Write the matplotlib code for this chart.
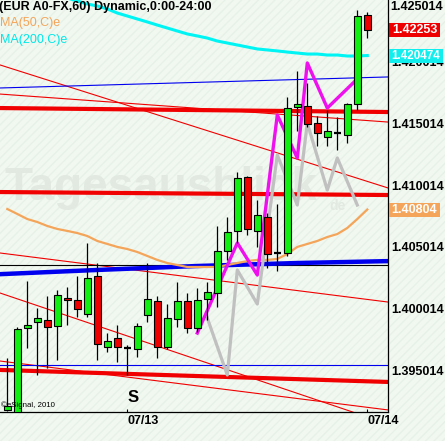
import numpy as np
import matplotlib
matplotlib.use("Agg")
import matplotlib.pyplot as plt
import matplotlib.transforms as mtransforms
from matplotlib.patches import Rectangle

plt.rcParams['font.family'] = ['Liberation Sans', 'DejaVu Sans']

# hourly EUR bars, 07/12 12:00 .. 07/14 00:00
opens = [1.39186, 1.39150, 1.39848, 1.39896, 1.39912, 1.39864, 1.40090, 1.40074, 1.39961, 1.40267,
         1.39694, 1.39767, 1.39686, 1.39678, 1.39953, 1.40066, 1.39694, 1.39920, 1.40066, 1.39848,
         1.40082, 1.40130, 1.40469, 1.40631, 1.41067, 1.40631, 1.40744, 1.40453, 1.40453, 1.41632,
         1.41640, 1.41502, 1.41389, 1.41422, 1.41406, 1.41656, 1.42374]
highs = [1.39606, 1.39856, 1.40227, 1.40009, 1.40106, 1.40154, 1.40179, 1.40267, 1.40534, 1.40372,
         1.39807, 1.39872, 1.39710, 1.39888, 1.40372, 1.40106, 1.40041, 1.40219, 1.40130, 1.40171,
         1.40219, 1.40671, 1.40744, 1.41107, 1.41075, 1.40881, 1.40776, 1.40849, 1.41712, 1.41922,
         1.41825, 1.41559, 1.41607, 1.41551, 1.41664, 1.42415, 1.42398]
lows = [1.39178, 1.39140, 1.39686, 1.39468, 1.39525, 1.39589, 1.39872, 1.39936, 1.39936, 1.39589,
        1.39654, 1.39573, 1.39468, 1.39614, 1.39896, 1.39606, 1.39678, 1.39856, 1.39807, 1.39815,
        1.39912, 1.40017, 1.40397, 1.40534, 1.40598, 1.40502, 1.40332, 1.40308, 1.40429, 1.41438,
        1.41470, 1.41317, 1.41317, 1.41284, 1.41341, 1.41607, 1.42189]
closes = [1.39218, 1.39840, 1.39872, 1.39928, 1.39856, 1.40114, 1.40074, 1.40001, 1.40251, 1.39719,
          1.39743, 1.39694, 1.39686, 1.39864, 1.40082, 1.39694, 1.39928, 1.40066, 1.39848, 1.40074,
          1.40138, 1.40469, 1.40623, 1.41058, 1.40647, 1.40760, 1.40445, 1.40453, 1.41623, 1.41656,
          1.41494, 1.41422, 1.41438, 1.41422, 1.41656, 1.42366, 1.42253]

ma50 = [1.40808, 1.40768, 1.40727, 1.40703, 1.40671, 1.40647, 1.40631, 1.40614, 1.40590, 1.40550,
        1.40526, 1.40502, 1.40485, 1.40461, 1.40429, 1.40397, 1.40372, 1.40356, 1.40340, 1.40340,
        1.40340, 1.40340, 1.40356, 1.40372, 1.40388, 1.40397, 1.40397, 1.40405, 1.40445, 1.40502,
        1.40526, 1.40550, 1.40582, 1.40606, 1.40655, 1.40727, 1.40804]
ma200_start = 6
ma200 = [1.42511, 1.42487, 1.42463, 1.42447, 1.42423, 1.42390, 1.42366, 1.42342, 1.42318, 1.42293,
         1.42269, 1.42245, 1.42221, 1.42205, 1.42188, 1.42164, 1.42148, 1.42132, 1.42116, 1.42100,
         1.42092, 1.42084, 1.42075, 1.42067, 1.42059, 1.42059, 1.42051, 1.42051, 1.42043, 1.42043,
         1.42047]

# thick blue support curve
blue_x = [-1, 9, 19, 29, 39]
blue_p = [1.40281, 1.40316, 1.40348, 1.40372, 1.40389]

# trend lines: price at left edge, price at right edge
red_thin = [(1.41971, 1.40978), (1.41736, 1.41510), (1.40453, 1.40057),
            (1.40130, 1.39073), (1.39581, 1.39186)]
red_thick = [(1.41623, 1.41591), (1.40945, 1.40921), (1.39509, 1.39412)]
blue_thin = [(1.41785, 1.41874), (1.39549, 1.39549)]
black_line = (1.40356, 1.40356)

zz_pink_x = [19, 23, 25, 27, 29, 30, 32, 35]
zz_pink_p = [1.39807, 1.40534, 1.40275, 1.41567, 1.41220, 1.41987, 1.41623, 1.41858]
zz_gray_x = [20, 22, 23, 25, 27, 29, 30, 32, 33, 35]
zz_gray_p = [1.39928, 1.39468, 1.40316, 1.40041, 1.41244, 1.40840, 1.41502, 1.40961, 1.41220, 1.40840]

ytick_vals = [1.395014, 1.400014, 1.405014, 1.410014, 1.415014, 1.420014]
xtick_pos = [12, 36]
xtick_labels = ['07/13', '07/14']

W, H = 445, 441
bg = '#f0f8f0'
fig = plt.figure(figsize=(W / 100, H / 100), dpi=100)
fig.patch.set_facecolor(bg)
fig.patches.append(Rectangle((0, 0), 1, 1, transform=fig.transFigure, facecolor=bg,
                             edgecolor='#e8f1e8', hatch='////', lw=0, zorder=-5))
ax = fig.add_axes([0, 29 / H, 388 / W, 412 / H])
ax.set_facecolor('none')

x_left, x_right = -0.73, 38.07
ax.set_xlim(x_left, x_right)
ax.set_ylim(1.391694, 1.424952)

# watermark
ax.text(-0.25, 1.4098, 'Tagesausblick', fontsize=33, fontweight='bold', color='#e1e9e1',
        va='center', ha='left', zorder=0.5)
ax.text(32.2, 1.40835, 'de', fontsize=10, fontweight='bold', color='#e1e9e1',
        va='center', ha='left', zorder=0.5)

for p0, p1 in red_thin:
    ax.plot([x_left, x_right], [p0, p1], color='#f00000', lw=0.8, zorder=1)
for p0, p1 in red_thick:
    ax.plot([x_left, x_right], [p0, p1], color='#f00000', lw=3.0, zorder=1)
for p0, p1 in blue_thin:
    ax.plot([x_left, x_right], [p0, p1], color='#0000ee', lw=0.8, zorder=1)
ax.plot([x_left, x_right], black_line, color='black', lw=0.8, zorder=1)
ax.plot(blue_x, blue_p, color='#0000ee', lw=3.2, zorder=1.1)

idx = np.arange(len(opens))
ax.plot(idx, ma50, color='#f4a55a', lw=1.6, zorder=1.2)
ax.plot(np.arange(ma200_start, ma200_start + len(ma200)), ma200, color='#00f4f4', lw=2.2, zorder=1.2)

ax.plot(zz_gray_x, zz_gray_p, color='#c0c0c0', lw=2.3, zorder=1.5)
ax.plot(zz_pink_x, zz_pink_p, color='#ee11ee', lw=2.4, zorder=1.6)

# candles
o = np.array(opens)
c = np.array(closes)
ax.vlines(idx, lows, highs, color='black', lw=0.9, zorder=3)
body = c != o
cols = np.where(c > o, '#11ee11', '#ee0000')
ax.bar(idx[body], (c - o)[body], bottom=o[body], width=0.7, color=cols[body],
       edgecolor='black', linewidth=0.8, zorder=3.5)
ax.hlines(o[~body], idx[~body] - 0.35, idx[~body] + 0.35, color='black', lw=1.6, zorder=3.5)

# axes styling
for s in ['left', 'top']:
    ax.spines[s].set_visible(False)
for s in ['right', 'bottom']:
    ax.spines[s].set_color('black')
    ax.spines[s].set_linewidth(0.9)

ax.yaxis.tick_right()
ax.set_yticks(ytick_vals)
ax.set_yticklabels(['%.6f' % v for v in ytick_vals], fontweight='bold', fontsize=9)
ax.tick_params(axis='y', length=0, pad=2)
ax.set_xticks(xtick_pos)
ax.set_xticklabels(xtick_labels, fontweight='bold', fontsize=9, ha='left')
ax.tick_params(axis='x', direction='in', length=2, pad=2)

fig.text(390 / W, 1 - 0.5 / H, '1.425014', fontsize=9, fontweight='bold', va='top', ha='left')

# value boxes on the price axis
trans = mtransforms.blended_transform_factory(ax.transAxes, ax.transData)
px = 0.00008072
for val, txt, fc, fs in [(closes[-1], '1.42253', '#ee0000', 9),
                         (ma200[-1], '1.420474', '#11eeee', 8.4),
                         (ma50[-1], '1.40804', '#f4a55a', 9)]:
    wpx = 51 if len(txt) == 7 else 54
    ax.add_patch(Rectangle((1.0 + 1 / 388, val - 7 * px), wpx / 388, 14 * px, transform=trans,
                           facecolor=fc, edgecolor='none', clip_on=False, zorder=10))
    ax.text(1.0 + (1 + wpx / 2) / 388, val, txt, transform=trans, color='white', fontsize=fs,
            fontweight='bold', ha='center', va='center', clip_on=False, zorder=11)

fig.text(-1 / W, 1 - 10 / H, '(EUR A0-FX,60) Dynamic,0:00-24:00', fontsize=9,
         fontweight='bold', va='baseline', ha='left')
fig.text(0, 1 - 26 / H, 'MA(50,C)e', fontsize=9, color='#f4a55a', va='baseline', ha='left')
fig.text(0, 1 - 43 / H, 'MA(200,C)e', fontsize=9, color='#00e8e8', va='baseline', ha='left')
fig.text(133 / W, 1 - 398 / H, 'S', fontsize=12, fontweight='bold', va='center', ha='center')
fig.text(1 / W, 1 - 405 / H, '\u00a9eSignal, 2010', fontsize=5.7, va='center', ha='left')

fig.savefig('out.png', dpi=100, facecolor=fig.get_facecolor())
